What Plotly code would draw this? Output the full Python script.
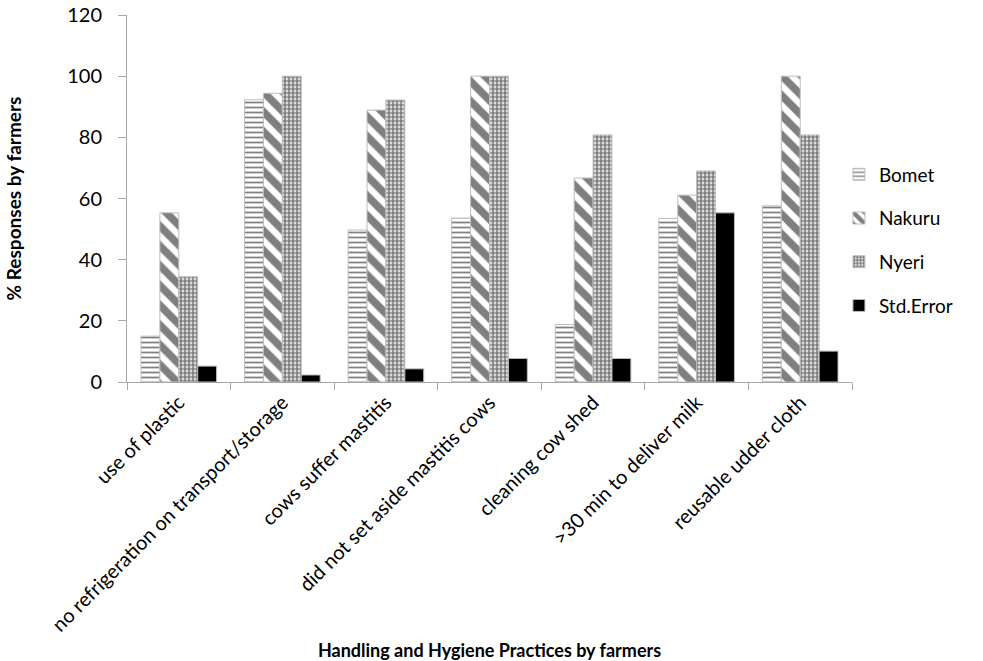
import plotly.graph_objects as go

# Handling and hygiene practices reported by farmers in three counties
practices = [
    "use of plastic",
    "no refrigeration on transport/storage",
    "cows suffer mastitis",
    "did not set aside mastitis cows",
    "cleaning cow shed",
    ">30 min to deliver milk",
    "reusable udder cloth",
]
bomet = [15.0, 92.3, 49.7, 53.6, 18.8, 53.5, 57.6]
nakuru = [55.3, 94.4, 88.9, 100.0, 66.7, 61.1, 100.0]
nyeri = [34.4, 100.0, 92.2, 100.0, 80.8, 69.0, 80.8]
std_error = [5.2, 2.3, 4.3, 7.7, 7.7, 55.3, 10.1]

y_ticks = [0, 20, 40, 60, 80, 100, 120]

FONT = "Lato"

series = [
    ("Bomet", bomet, dict(shape="-", size=5, solidity=0.35, fgcolor="black", bgcolor="white")),
    ("Nakuru", nakuru, dict(shape="\\", size=14, solidity=0.55, fgcolor="black", bgcolor="white")),
    ("Nyeri", nyeri, dict(shape=".", size=4, solidity=0.7, fgcolor="black", bgcolor="white")),
    ("Std.Error", std_error, None),
]

fig = go.Figure()
for i, (name, vals, pattern) in enumerate(series):
    marker = dict(color="black" if pattern is None else "white",
                  line=dict(color="#bdbdbd", width=1))
    if pattern is not None:
        marker["pattern"] = pattern
    fig.add_trace(go.Bar(
        x=practices, y=vals, name=name, marker=marker,
        legendgroup=f"g{i}",
    ))

fig.update_layout(
    width=983, height=661,
    margin=dict(l=127, r=131, t=15, b=279),
    paper_bgcolor="white", plot_bgcolor="white",
    barmode="group", bargap=0.27, bargroupgap=0,
    font=dict(family=FONT, color="black", size=20),
    legend=dict(
        x=0.982, xanchor="left", y=0.387, yanchor="middle",
        font=dict(family=FONT, size=19),
        tracegroupgap=16, itemwidth=30,
    ),
    showlegend=True,
)

fig.update_yaxes(
    range=[0, 120], tickvals=y_ticks, showgrid=False, zeroline=False,
    showline=True, linecolor="#a6a6a6", linewidth=1, automargin=False,
    ticks="outside", ticklen=8, tickcolor="#a6a6a6", ticklabelstandoff=12,
    tickfont=dict(family=FONT, size=20),
    title=dict(text="<b>% Responses by farmers</b>", font=dict(family=FONT, size=19), standoff=40),
)
fig.update_xaxes(
    showgrid=False, showline=True, linecolor="#a6a6a6", linewidth=1, automargin=False,
    ticks="outside", ticklen=7, tickcolor="#a6a6a6", tickson="boundaries",
    tickangle=-45, tickfont=dict(family=FONT, size=20),
    title=dict(text="<b>Handling and Hygiene Practices by farmers</b>", font=dict(family=FONT, size=18), standoff=10),
)

fig.write_html("out.html")
